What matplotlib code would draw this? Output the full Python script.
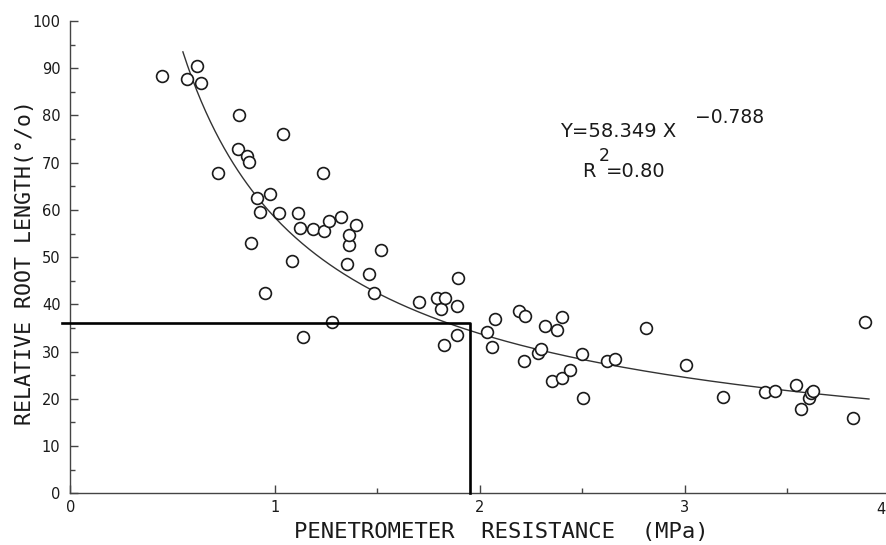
import numpy as np
import matplotlib.pyplot as plt

# Measured points: penetrometer resistance (MPa) vs relative root length (%)
resistance = [0.446, 0.568, 0.620, 0.640, 0.721, 0.820, 0.825, 0.861, 0.874, 0.882,
              0.910, 0.926, 0.952, 0.977, 1.020, 1.038, 1.082, 1.113, 1.121, 1.135,
              1.184, 1.235, 1.239, 1.265, 1.278, 1.320, 1.350, 1.359, 1.362, 1.393,
              1.460, 1.483, 1.518, 1.702, 1.790, 1.808, 1.826, 1.832, 1.887, 1.889,
              1.895, 2.036, 2.058, 2.074, 2.191, 2.214, 2.221, 2.283, 2.300, 2.320,
              2.350, 2.376, 2.401, 2.402, 2.441, 2.497, 2.505, 2.619, 2.661, 2.811,
              3.006, 3.189, 3.391, 3.440, 3.542, 3.569, 3.606, 3.615, 3.625, 3.820,
              3.880]
root_length = [88.4, 87.8, 90.4, 86.9, 67.8, 72.9, 80.0, 71.4, 70.1, 52.9,
               62.5, 59.6, 42.3, 63.4, 59.3, 76.1, 49.1, 59.4, 56.1, 33.1,
               55.9, 67.8, 55.5, 57.7, 36.2, 58.4, 48.5, 52.6, 54.7, 56.9,
               46.4, 42.3, 51.5, 40.4, 41.3, 39.0, 31.3, 41.3, 39.7, 33.5,
               45.6, 34.1, 30.9, 36.8, 38.5, 28.0, 37.5, 29.8, 30.6, 35.4,
               23.8, 34.6, 24.4, 37.3, 26.0, 29.4, 20.1, 28.0, 28.4, 35.0,
               27.2, 20.4, 21.4, 21.7, 22.9, 17.9, 20.2, 21.3, 21.6, 16.0,
               36.2]

# Power-law fit  Y = a * X^b
fit_a = 58.349
fit_b = -0.788
fit_range = (0.55, 3.9)

# Critical resistance and the matching root length
crit_x = 1.95
crit_y = 36.0

x_major = [0, 1, 2, 3]
x_minor = [1.5, 2.5, 3.5]

ink = '#1a1a1a'
mono = 'DejaVu Sans Mono'

fig = plt.figure(figsize=(8.86, 5.45), dpi=100)
ax = fig.add_axes([0.0793, 0.0949, 0.9246, 0.8666])

ax.plot(resistance, root_length, 'o', ms=8.5, mfc='white', mec=ink, mew=1.2,
        zorder=3)

xf = np.linspace(fit_range[0], fit_range[1], 300)
ax.plot(xf, fit_a * xf ** fit_b, color='#333333', lw=1.0, zorder=2)

ax.plot([-0.04, crit_x, crit_x], [crit_y, crit_y, 0], color='black', lw=1.9,
        clip_on=False, zorder=4)

ax.set_xlim(0, 4)
ax.set_ylim(0, 100)
for side in ('top', 'right'):
    ax.spines[side].set_visible(False)
for side in ('left', 'bottom'):
    ax.spines[side].set_color('#444444')
    ax.spines[side].set_linewidth(1.0)

ax.set_xticks(x_major)
ax.set_xticks(x_minor, minor=True)
ax.set_yticks(np.arange(0, 101, 10))
ax.set_yticks(np.arange(5, 100, 10), minor=True)
ax.tick_params(axis='both', which='major', direction='in', length=6, width=1,
               color='#444444', labelsize=10.5, labelcolor=ink)
ax.tick_params(axis='both', which='minor', direction='in', length=3.5, width=1,
               color='#444444')
ax.tick_params(axis='x', pad=5)
ax.tick_params(axis='y', pad=7)
# the "4" falls on the page edge, so pin it inside the figure
fig.text(0.999, 0.0655, '4', ha='right', va='center', fontsize=10.5, color=ink)

fig.text(0.566, 0.024, 'PENETROMETER  RESISTANCE  (MPa)', ha='center',
         va='center', fontsize=16, family=mono, color=ink)
fig.text(0.028, 0.519, 'RELATIVE ROOT LENGTH(°/o)', ha='center', va='center',
         rotation=90, fontsize=15.5, family=mono, color=ink)

# Equation of the fitted curve
ax.text(2.39, 75.4, 'Y=58.349 X', fontsize=14, color=ink, va='baseline')
ax.text(3.05, 78.4, '−0.788', fontsize=13.5, color=ink, va='baseline')
ax.text(2.50, 67.0, 'R', fontsize=14, color=ink, va='baseline')
ax.text(2.58, 70.4, '2', fontsize=12.5, color=ink, va='baseline')
ax.text(2.615, 67.0, '=0.80', fontsize=14, color=ink, va='baseline')

fig.savefig('out.png', dpi=100, facecolor='white')
